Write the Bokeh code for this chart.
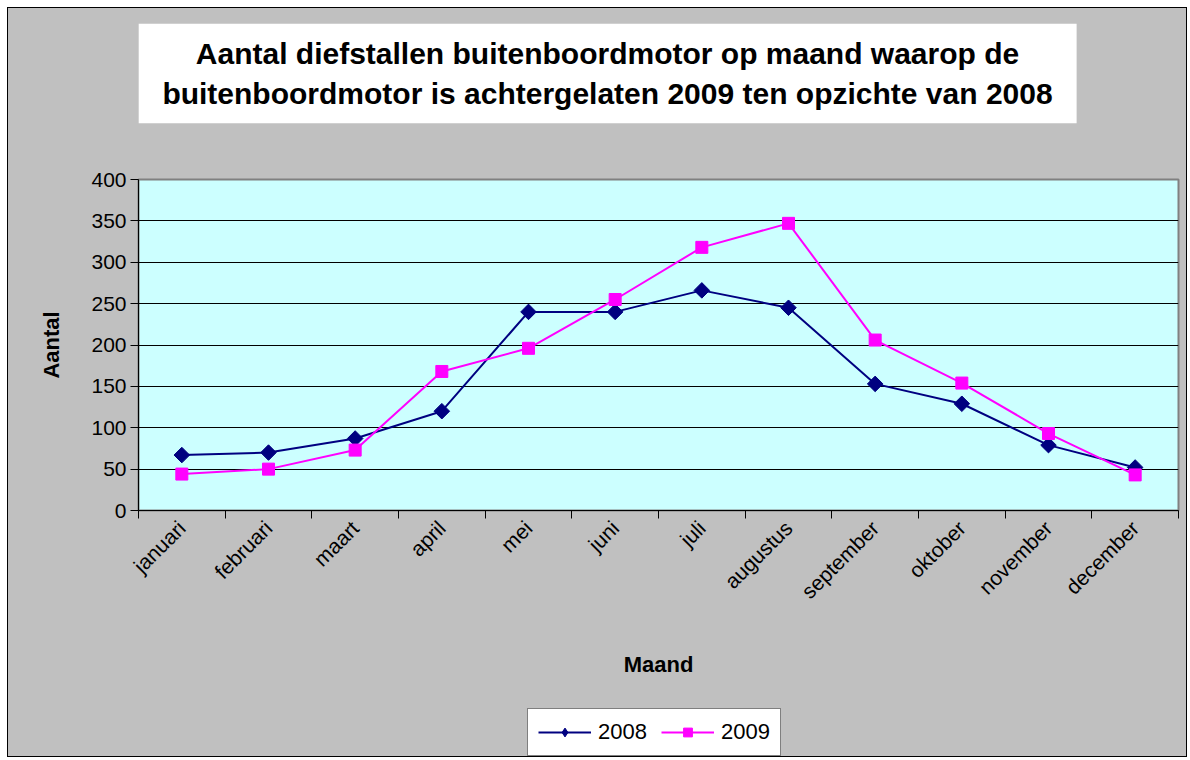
from bokeh.plotting import figure
from bokeh.layouts import column
from bokeh.models import (Range1d, FixedTicker, Legend, LegendItem, Label)
from bokeh.embed import file_html
from bokeh.resources import INLINE

months = ["januari", "februari", "maart", "april", "mei", "juni", "juli",
          "augustus", "september", "oktober", "november", "december"]
y2008 = [67, 70, 87, 120, 240, 240, 266, 245, 153, 129, 79, 52]
y2009 = [44, 50, 73, 168, 196, 255, 318, 347, 206, 154, 93, 43]
yticks = [0, 50, 100, 150, 200, 250, 300, 350, 400]
title_text = ("Aantal diefstallen buitenboordmotor op maand waarop de\n"
              "buitenboordmotor is achtergelaten 2009 ten opzichte van 2008")

FONT = "Liberation Sans"
GREY = "#C0C0C0"
W = 1178
LEFT, RIGHT = 130, 8
xs = [i + 0.5 for i in range(len(months))]


def blank(height, y_range):
    # strip whose frame is aligned with the chart's frame (page-pixel units)
    f = figure(width=W, height=height, output_backend="svg",
               toolbar_location=None, x_axis_type=None, y_axis_type=None,
               x_range=Range1d(LEFT + 8, W - RIGHT + 8), y_range=y_range,
               min_border_left=LEFT, min_border_right=RIGHT,
               min_border_top=0, min_border_bottom=0)
    f.grid.visible = False
    f.outline_line_color = None
    f.background_fill_color = GREY
    f.border_fill_color = GREY
    return f


# ---- title strip (page y 8..158) ----
tfig = blank(150, Range1d(158, 8))
tfig.add_layout(Label(x=607, y=73, text=title_text,
                      text_align="center", text_baseline="middle",
                      text_font=FONT, text_font_style="bold",
                      text_font_size="30px", text_line_height=1.22,
                      text_color="black",
                      background_fill_color="white", padding=(24, 13)))

# ---- main chart (page y 158..700) ----
p = figure(width=W, height=542, output_backend="svg", toolbar_location=None,
           x_range=Range1d(0, len(months)), y_range=Range1d(0, 400),
           min_border_left=LEFT, min_border_right=RIGHT, min_border_top=21,
           min_border_bottom=190)
p.background_fill_color = "#CCFFFF"
p.border_fill_color = GREY
p.outline_line_color = "#808080"
p.outline_line_width = 2

p.xaxis.ticker = FixedTicker(ticks=xs, minor_ticks=list(range(len(months) + 1)))
p.xaxis.major_label_overrides = {x: m for x, m in zip(xs, months)}
p.xaxis.major_tick_out = 0
p.xaxis.major_tick_in = 0
p.xaxis.minor_tick_out = 8
p.xaxis.minor_tick_in = 0
p.xaxis.minor_tick_line_color = "black"
p.xaxis.major_label_orientation = 0.785398
p.xaxis.major_label_text_font = FONT
p.xaxis.major_label_text_font_size = "21px"
p.xaxis.major_label_text_color = "black"
p.xaxis.major_label_standoff = 6
p.xaxis.axis_label = "Maand"
p.xaxis.axis_label_text_font = FONT
p.xaxis.axis_label_text_font_style = "bold"
p.xaxis.axis_label_text_font_size = "22px"
p.xaxis.axis_label_text_color = "black"
p.xaxis.axis_label_standoff = 38
p.xaxis.axis_line_color = "black"

p.yaxis.ticker = FixedTicker(ticks=yticks)
p.yaxis.minor_tick_line_color = None
p.yaxis.major_tick_out = 8
p.yaxis.major_tick_in = 0
p.yaxis.major_tick_line_color = "black"
p.yaxis.major_label_text_font = FONT
p.yaxis.major_label_text_font_size = "21px"
p.yaxis.major_label_text_color = "black"
p.yaxis.major_label_standoff = 4
p.yaxis.axis_label = "Aantal"
p.yaxis.axis_label_text_font = FONT
p.yaxis.axis_label_text_font_style = "bold"
p.yaxis.axis_label_text_font_size = "22px"
p.yaxis.axis_label_text_color = "black"
p.yaxis.axis_label_standoff = 24
p.yaxis.axis_line_color = "black"

p.xgrid.grid_line_color = None
p.ygrid.ticker = FixedTicker(ticks=yticks)
p.ygrid.grid_line_color = "black"
p.ygrid.grid_line_width = 1

C08, C09 = "#000080", "#FF00FF"
p.line(xs, y2008, line_color=C08, line_width=2)
p.scatter(xs, y2008, marker="square", size=11, angle=0.785398,
          fill_color=C08, line_color=C08)
p.line(xs, y2009, line_color=C09, line_width=2)
p.scatter(xs, y2009, marker="square", size=12, fill_color=C09, line_color=C09)

# ---- legend strip (page y 700..756) ----
lfig = blank(56, Range1d(0, 56))
k1 = lfig.line(xs, y2008, line_color=C08, line_width=2)
s1 = lfig.scatter(xs, y2008, marker="diamond", size=14,
                  fill_color=C08, line_color=C08)
k2 = lfig.line(xs, y2009, line_color=C09, line_width=2)
s2 = lfig.scatter(xs, y2009, marker="square", size=10, fill_color=C09,
                  line_color=C09)
legend = Legend(items=[LegendItem(label="2008", renderers=[k1, s1]),
                       LegendItem(label="2009", renderers=[k2, s2])],
                orientation="horizontal", location=(389, 0),
                label_text_font=FONT, label_text_font_size="22px",
                label_text_color="black",
                glyph_width=53, glyph_height=22, spacing=14,
                label_standoff=7, padding=10, margin=0,
                border_line_color="black", border_line_width=1,
                background_fill_color="white", background_fill_alpha=1)
lfig.add_layout(legend)

layout = column(tfig, p, lfig, spacing=0,
                styles={"border": "1px solid black", "margin": "7px 0 0 7px",
                        "background-color": GREY})

open("out.html", "w").write(file_html(layout, INLINE))
